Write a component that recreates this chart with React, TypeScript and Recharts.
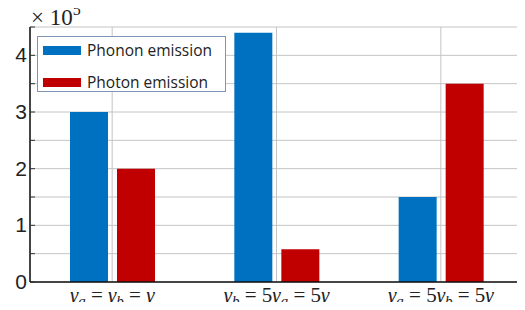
import React from 'react';
import { BarChart, Bar, XAxis, YAxis, CartesianGrid, Legend } from 'recharts';

const categories = ['γ_a = γ_b = γ', 'γ_b = 5γ_a = 5γ', 'γ_a = 5γ_b = 5γ'];
const phonon = [3, 4.4, 1.5];
const photon = [2, 0.58, 3.5];
const yTicks = [0, 0.5, 1, 1.5, 2, 2.5, 3, 3.5, 4, 4.5];
const seriesNames = ['Phonon emission', 'Photon emission'];
const colors = ['#0070C0', '#C00000'];

const data = categories.map((c, i) => ({ name: c, phonon: phonon[i], photon: photon[i] }));

// category label: γ italic, "_x" becomes an italic subscript
const MathTick = (props: any) => {
  const { x, y, payload } = props;
  const parts: string[] = payload.value.match(/_[a-z]|γ|[^γ_]+/g) || [];
  let down = false;
  return (
    <text x={x} y={y + 12} textAnchor="middle" fontFamily="'Liberation Serif'" fontSize={21} fill="#222">
      {parts.map((p, i) => {
        if (p.startsWith('_')) {
          down = true;
          return <tspan key={i} dy={4} fontSize={15} fontStyle="italic">{p.slice(1)}</tspan>;
        }
        const dy = down ? -4 : 0;
        down = false;
        return (
          <tspan key={i} dy={dy} fontStyle={p === 'γ' ? 'italic' : 'normal'}>
            {p.replace(/ /g, '\u00a0')}
          </tspan>
        );
      })}
    </text>
  );
};

const LeftTick = (props: any) => {
  const { x, y, payload } = props;
  return (
    <g>
      <line x1={x + 3} x2={x + 8} y1={y} y2={y} stroke="#333" />
      {Number.isInteger(payload.value) && payload.value <= 4 && (
        <text x={x} y={y + 7} textAnchor="end" fontFamily="'Liberation Sans'" fontSize={21} fill="#222">
          {payload.value}
        </text>
      )}
    </g>
  );
};

const RightTick = (props: any) => {
  const { x, y } = props;
  return <line x1={x - 5} x2={x} y1={y} y2={y} stroke="#444" />;
};

const TopTick = (props: any) => {
  const { x, y } = props;
  return <line x1={x} x2={x} y1={y} y2={y + 5} stroke="#222" strokeWidth={1.5} />;
};

const LegendBox = () => (
  <div
    style={{
      position: 'relative',
      width: 187,
      height: 54,
      border: '1px solid #7f95b5',
      background: '#fff',
      fontFamily: "'Open Sans'",
      fontSize: 15.5,
      color: '#222',
    }}
  >
    {seriesNames.map((n, i) => (
      <div key={n} style={{ position: 'absolute', left: 5, top: 7 + i * 32, display: 'flex', alignItems: 'center', whiteSpace: 'nowrap' }}>
        <span style={{ display: 'inline-block', width: 38, height: 9, background: colors[i], marginRight: 6 }} />
        <span style={{ lineHeight: '12px' }}>{n}</span>
      </div>
    ))}
  </div>
);

export default function App() {
  return (
    <div style={{ position: 'relative', width: 525, height: 310, margin: -8, background: '#fff' }}>
      <BarChart
        width={525}
        height={310}
        data={data}
        margin={{ top: 27, right: 2, left: 0, bottom: 0 }}
        barSize={38}
        barGap={9}
      >
        <CartesianGrid stroke="#c4c4c4" />
        <XAxis
          dataKey="name"
          height={28}
          tick={<MathTick />}
          tickLine={false}
          axisLine={{ stroke: '#111', strokeWidth: 1.5 }}
          interval={0}
        />
        <XAxis
          xAxisId="top"
          dataKey="name"
          orientation="top"
          height={0}
          tick={<TopTick />}
          tickLine={false}
          tickSize={0}
          tickMargin={0}
          axisLine={{ stroke: '#111', strokeWidth: 2 }}
          interval={0}
        />
        <YAxis
          width={30}
          domain={[0, 4.5]}
          ticks={yTicks}
          tick={<LeftTick />}
          tickLine={false}
          tickSize={0}
          tickMargin={3}
          axisLine={{ stroke: '#111', strokeWidth: 1.5 }}
          interval={0}
        />
        <YAxis
          yAxisId="r"
          orientation="right"
          width={0}
          domain={[0, 4.5]}
          ticks={yTicks}
          tick={<RightTick />}
          tickLine={false}
          tickSize={0}
          tickMargin={0}
          axisLine={{ stroke: '#777' }}
          interval={0}
        />
        <Legend
          layout="horizontal"
          verticalAlign="middle"
          align="center"
          wrapperStyle={{ position: 'absolute', left: 37, top: 36, width: 'auto' }}
          content={() => <LegendBox />}
        />
        <Bar dataKey="phonon" name={seriesNames[0]} fill={colors[0]} isAnimationActive={false} />
        <Bar dataKey="photon" name={seriesNames[1]} fill={colors[1]} isAnimationActive={false} />
      </BarChart>
      <svg width={120} height={30} style={{ position: 'absolute', left: 0, top: 0, zIndex: 5 }}>
        <text x={31} y={25} fontFamily="'Liberation Serif'" fontSize={23} fill="#222">
          ×{'\u00a0'}10
          <tspan dy={-10} fontSize={16}>5</tspan>
        </text>
      </svg>
    </div>
  );
}
